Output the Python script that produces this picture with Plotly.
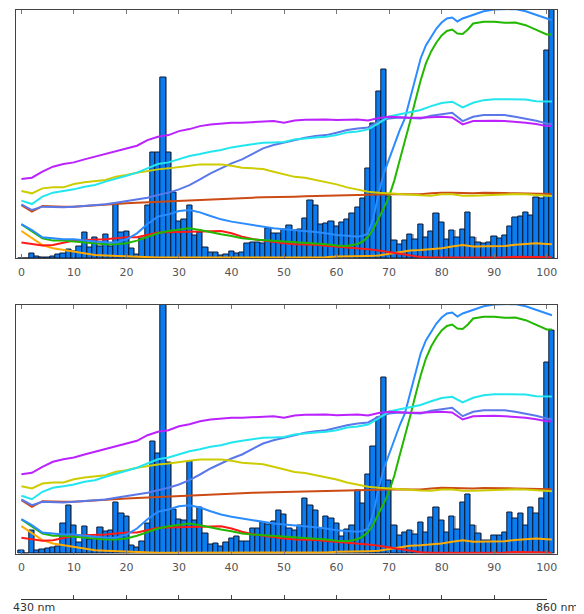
import plotly.graph_objects as go

# ---------------- data ----------------
BAR_X = list(range(102))

TOP_BARS = [0, 0, 5, 2.3, 0.7, 0.7, 1.7, 4, 5, 9,
            7, 11.7, 26, 11, 21, 11.7, 24, 12.3, 55, 25.7,
            27, 9.7, 4, 20, 53, 105.7, 105.7, 181, 105.7, 66,
            37, 39, 53, 23, 26, 11, 6.3, 6.3, 3.3, 4.2,
            6.8, 5, 5.8, 14.5, 15.5, 15.5, 14.5, 30, 25, 25,
            29, 33, 28.2, 29, 39.7, 58, 53, 34, 35.3, 36.7,
            32.3, 36, 39.3, 45, 51, 60, 89.5, 135, 167, 189.3,
            61.7, 18.2, 14, 18.2, 24, 19.2, 34.3, 20.5, 27.2, 45,
            36, 19.2, 28.2, 21, 28.7, 45.5, 21, 16, 14.5, 16,
            22, 20, 23, 31.5, 41, 41.8, 46.2, 43.2, 61, 60.3,
            208, 300]

BOTTOM_BARS = [3, 0, 22.7, 3.3, 4, 4.7, 5.7, 7.3, 30, 47.7,
               28.3, 11, 27, 14, 15, 25.7, 22.3, 23.3, 50.7, 40,
               36.7, 8, 6, 12.3, 30, 112, 100, 300, 91, 44.3,
               34.3, 32.7, 91.7, 33.3, 45.7, 20, 8.7, 10.2, 7.2, 11.5,
               15.2, 16.8, 11.7, 12.5, 25.5, 25.5, 30.7, 29, 32.3, 43.2,
               39.5, 25.5, 23, 27.7, 55, 47.7, 43, 25, 37, 35.3,
               29.7, 17, 24.3, 28.3, 62.7, 50.3, 79.2, 107.3, 136.2, 176,
               73.2, 27.8, 18.3, 21, 23.3, 19, 31, 21, 36, 46,
               33.3, 20.7, 37.3, 24.3, 51, 58.7, 28.3, 20, 13.3, 13.3,
               18.3, 18.3, 20.7, 40.7, 35, 39.7, 28.3, 45.7, 40, 55,
               191.3, 223]

LINE_X = list(range(0, 101, 2)) + [101]

PURPLE = [79.3, 80.7, 86.7, 91.7, 94.3, 96, 99, 101.7, 104.3, 106.7,
          110, 112.7, 118.3, 121.7, 123.3, 127.3, 129.3, 132.3, 134, 135,
          135.7, 135.7, 136.3, 137.3, 137.3, 135.7, 138, 138.7, 139, 139,
          138.3, 139, 139, 138, 140.5, 141.7, 141, 140.7, 140.7, 141,
          141.7, 141, 134, 137.3, 137.7, 137.7, 137.3, 136.7, 135.7, 134.3,
          132.3, 132.3]
CYAN = [57.7, 54.3, 61.7, 65.7, 67.3, 69, 71.7, 73.3, 76.7, 80,
        82.7, 85.7, 90, 94.3, 96, 99, 102.3, 104.3, 106.7, 108.3,
        111, 112.7, 114, 115.7, 116, 116.5, 119, 120.3, 121, 121.7,
        123.3, 126, 127, 129, 135, 142, 144, 146, 148.5, 152.3,
        155.5, 156.7, 151, 155.7, 158.3, 159.3, 159.3, 159.7, 159, 157.3,
        156.7, 157]
OLIVE = [67.3, 65, 70, 71, 71, 74.3, 76, 77.3, 78.3, 81.7,
         83.3, 85.7, 87.7, 89, 90, 91.7, 92.7, 94, 94, 94,
         92.7, 90.7, 90, 89.3, 86.7, 84.3, 81.5, 80.5, 78.5, 76.7,
         74, 71, 69, 66.7, 65.7, 65, 64.3, 63.3, 63, 62.7,
         64, 64, 62.7, 62.7, 63, 64, 64, 64.3, 64, 63.5,
         62.7, 62.3]
ROYAL = [54, 48.3, 51.7, 51, 51, 51.7, 52.3, 52.7, 54, 55.7,
         57.3, 59, 60.7, 63.3, 65.7, 69, 73.3, 79, 85, 90,
         95, 99, 104.3, 110, 113.3, 116, 118.3, 120.7, 122.3, 123.3,
         125.7, 128.3, 130, 131, 136.7, 140, 141, 140.5, 140, 142.7,
         144, 145.7, 137.3, 141.7, 143.3, 143.3, 143.3, 141.7, 140, 137.7,
         135, 134.3]
BROWN = [53.3, 46.7, 52.3, 51.7, 51.7, 51.7, 52.5, 53.3, 54, 54.3,
         55, 55.5, 56, 56.3, 56.7, 57.5, 58.3, 58.7, 59, 59.5,
         60, 60.3, 60.7, 61, 61, 61.5, 61.7, 62, 62.3, 62.7,
         63, 63, 63.3, 63.5, 64, 64.3, 64.3, 64, 64, 65,
         65.7, 65.5, 65, 65, 65.5, 65.7, 65.3, 65, 65, 64.7,
         64.3, 64.3]
RED = [15.7, 14, 12.7, 13.3, 15.7, 17.7, 18.3, 18.3, 19, 20,
       21, 21, 23.3, 25.7, 26, 26.3, 26.7, 27.3, 27.7, 27.3,
       25, 21.7, 19.3, 17.7, 16, 15, 14, 14, 13.5, 12.5,
       11.7, 11, 10, 9, 7.7, 6, 4.3, 2.5, 1.3, 0.7,
       0.7, 1, 1, 0.7, 0.7, 0.8, 1, 1.5, 1.7, 1.3,
       1, 0.7]
ORANGE = [27.3, 20, 13.3, 10, 8.3, 6, 4.3, 3.3, 2.7, 2.3,
          1.7, 1, 0.7, 0.7, 0.8, 0.8, 0.8, 0.8, 0.8, 0.8,
          0.8, 0.8, 0.9, 0.9, 1, 1, 1, 1, 1, 1,
          1.7, 1.7, 1.7, 2.3, 2.7, 4.3, 6, 7.7, 8.3, 9,
          10, 11.7, 13.3, 11.7, 11.7, 12, 12.3, 13.5, 14.5, 15,
          14.3, 14]

STEEP_X = list(range(0, 65, 2)) + list(range(65, 87)) + list(range(88, 101, 2)) + [101]

DODGER = [34.3, 28.3, 21, 20, 19, 19, 17.7, 16.7, 16, 15.7,
          19, 25, 34.3, 41.7, 44, 47.3, 48.3, 46, 42.3, 39,
          36.7, 35, 33.3, 31.7, 30, 29, 28.3, 27.5, 26.3, 25,
          23.3, 22.5, 21.7,
          22.5, 25, 40, 65, 85, 100, 113, 128, 140, 160, 182,
          200, 213, 222, 230, 236, 240, 241, 237, 240, 242, 244,
          247.3, 249, 249, 249.5, 247.3, 244, 240, 238.3]
GREEN = [34, 26.7, 20, 17.7, 17.7, 16.7, 15.7, 15, 14, 14,
         15, 17.7, 21, 25, 27.3, 28.3, 30, 28.3, 26, 24,
         22.3, 20, 19, 18.3, 17.7, 17.3, 16.7, 16, 15.3, 14,
         12.7, 12.3, 14.3,
         17, 21.5, 29, 40, 50, 62, 78, 98, 117, 137, 158,
         178, 195, 207, 216, 223, 227.5, 229, 225, 224.5, 229, 235,
         236.7, 236.7, 235.7, 236, 233.3, 229, 224, 224]

LINES = [
    (LINE_X, ORANGE, "#ffaa00"),
    (LINE_X, RED, "#ff1a1a"),
    (STEEP_X, GREEN, "#22b800"),
    (STEEP_X, DODGER, "#2a8cff"),
    (LINE_X, BROWN, "#cc4a14"),
    (LINE_X, ROYAL, "#5a78ea"),
    (LINE_X, OLIVE, "#cccc00"),
    (LINE_X, CYAN, "#22e6ee"),
    (LINE_X, PURPLE, "#bb22ff"),
]

# ---------------- geometry (page pixels; page body has an 8px margin) ----------------
PAGE_W, PAGE_H = 584, 614
OFF = 8
W, H = PAGE_W - OFF, PAGE_H - OFF


def px_x(X):
    return (X - OFF) / W


def px_y(Y):
    return (PAGE_H - Y) / H


fig = go.Figure()

panels = [("x", "y", TOP_BARS), ("x2", "y2", BOTTOM_BARS)]
for xa, ya, bars in panels:
    # soft grey drop shadow to the right/top of each bar
    fig.add_trace(go.Bar(x=BAR_X, y=[v + 1 if v > 0 else 0 for v in bars],
                         width=1, offset=-0.3, xaxis=xa, yaxis=ya,
                         marker=dict(color="rgba(90,90,90,0.45)", line=dict(width=0)),
                         showlegend=False, hoverinfo="skip"))
    fig.add_trace(go.Bar(x=BAR_X, y=bars, width=1, offset=-0.5, xaxis=xa, yaxis=ya,
                         marker=dict(color="#0a7cf0",
                                     line=dict(color="#0d1830", width=1)),
                         showlegend=False, hoverinfo="skip"))
    for lx, ly, col in LINES:
        fig.add_trace(go.Scatter(x=lx, y=ly, mode="lines", xaxis=xa, yaxis=ya,
                                 line=dict(color=col, width=2),
                                 showlegend=False, hoverinfo="skip"))

x_dom = [px_x(16.3), px_x(557)]
x_rng = [-0.97, 101.96]
axis_font = dict(family="DejaVu Sans", size=11, color="#555555")


def xaxis_cfg(anchor):
    return dict(domain=x_dom, range=x_rng, anchor=anchor,
                tickmode="array", tickvals=list(range(0, 101, 10)),
                ticks="inside", ticklen=4, tickcolor="#777777",
                showline=True, linecolor="#444444", linewidth=1, mirror="ticks",
                showgrid=False, zeroline=False, tickfont=axis_font,
                ticklabelstandoff=3)


def yaxis_cfg(anchor, dom):
    return dict(domain=dom, range=[0, 249], anchor=anchor,
                showticklabels=False, ticks="", showline=True,
                linecolor="#444444", linewidth=1, mirror=True,
                showgrid=False, zeroline=False)


nm_font = dict(family="DejaVu Sans", size=11, color="#333333")

fig.update_layout(
    width=W, height=H,
    margin=dict(l=0, r=0, t=0, b=0),
    paper_bgcolor="white", plot_bgcolor="white",
    bargap=0, barmode="overlay",
    xaxis=xaxis_cfg("y"),
    yaxis=yaxis_cfg("x", [px_y(258.3), px_y(9.5)]),
    xaxis2=xaxis_cfg("y2"),
    yaxis2=yaxis_cfg("x2", [px_y(553.5), px_y(304.5)]),
    xaxis3=dict(domain=[px_x(21.4), px_x(546.7)], range=[0, 100], anchor="y3",
                tickmode="array", tickvals=list(range(0, 101, 10)),
                ticks="inside", ticklen=4, tickcolor="#444444",
                showticklabels=False, showline=True, linecolor="#333333",
                linewidth=1, showgrid=False, zeroline=False),
    yaxis3=dict(domain=[px_y(599.3), px_y(592)], range=[0, 1],
                anchor="x3", visible=False),
    annotations=[
        dict(text="430 nm", x=0, xref="x3", y=px_y(607.5), yref="paper",
             xanchor="left", yanchor="middle", xshift=-10, showarrow=False,
             font=nm_font),
        dict(text="860 nm", x=100, xref="x3", y=px_y(607.5), yref="paper",
             xanchor="left", yanchor="middle", xshift=-13, showarrow=False,
             font=nm_font),
    ],
)

fig.write_html("out.html")
